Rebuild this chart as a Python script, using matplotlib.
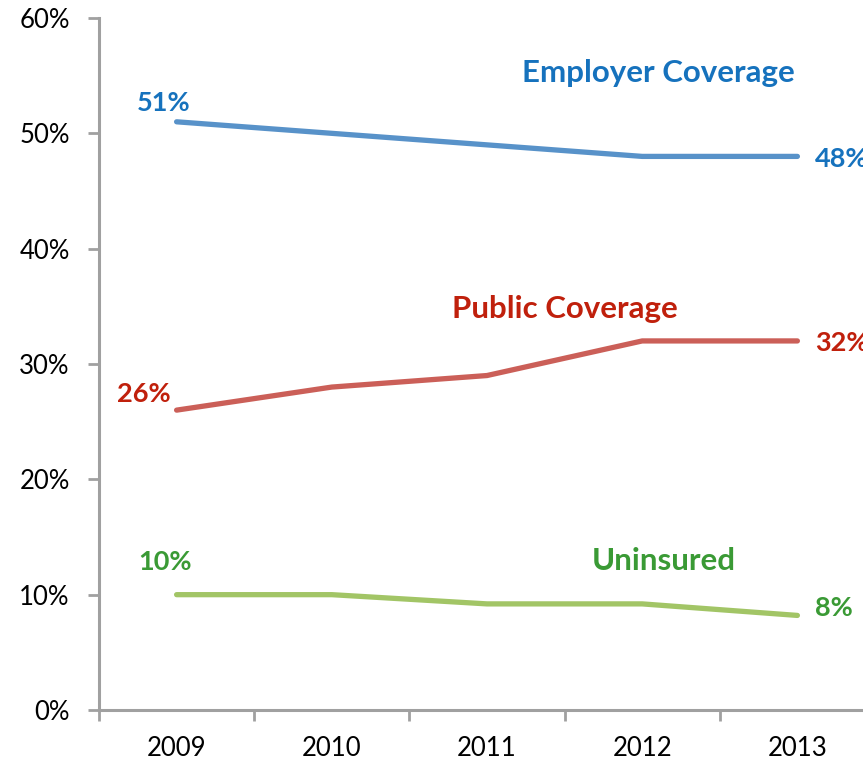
import matplotlib
matplotlib.use("Agg")
import matplotlib.pyplot as plt

years = ["2009", "2010", "2011", "2012", "2013"]
employer = [51, 50, 49, 48, 48]
public = [26, 28, 29, 32, 32]
uninsured = [10, 10, 9.2, 9.2, 8.2]
y_ticks = [0, 10, 20, 30, 40, 50, 60]

plt.rcParams['font.family'] = ['Lato', 'DejaVu Sans']

fig = plt.figure(figsize=(8.63, 7.63), dpi=100)
ax = fig.add_axes([99/863, 53/763, 776/863, 692/763])

x = list(range(len(years)))
c_emp_line, c_emp_txt = "#5892C9", "#1672BD"
c_pub_line, c_pub_txt = "#CB5F58", "#C0200C"
c_uni_line, c_uni_txt = "#A2C566", "#3A9A35"

ax.plot(x, employer, color=c_emp_line, lw=3.8, solid_capstyle='round')
ax.plot(x, public, color=c_pub_line, lw=3.8, solid_capstyle='round')
ax.plot(x, uninsured, color=c_uni_line, lw=3.8, solid_capstyle='round')

ax.set_xlim(-0.5, len(years) - 0.5)
ax.set_ylim(0, 60)
ax.set_yticks(y_ticks)
ax.set_yticklabels([f"{t}%" for t in y_ticks])
ax.set_xticks(x)
ax.set_xticklabels(years)
ax.set_xticks([i + 0.5 for i in range(-1, len(years))], minor=True)

for s in ['top', 'right']:
    ax.spines[s].set_visible(False)
for s in ['left', 'bottom']:
    ax.spines[s].set_color('#A0A0A0')
    ax.spines[s].set_linewidth(2.2)

ax.tick_params(axis='y', direction='out', length=8, width=2, color='#A0A0A0',
               labelsize=18.5, pad=13, labelcolor='black')
ax.tick_params(axis='x', which='major', length=0, labelsize=18.5, pad=19)
ax.tick_params(axis='x', which='minor', direction='out', length=8, width=2, color='#A0A0A0')

fs_num = 19.5
fs_word = 22.5
def lab(txt, xi, yi, dx, dy, color, fs, ha='center'):
    ax.annotate(txt, (xi, yi), xytext=(dx, -dy), textcoords='offset pixels',
                ha=ha, va='center', color=color, fontsize=fs, fontweight='bold',
                annotation_clip=False)

lab(f"{employer[0]:.0f}%", 0, employer[0], -13, -19, c_emp_txt, fs_num)
lab(f"{employer[-1]:.0f}%", 4, employer[-1], 18, 3, c_emp_txt, fs_num, ha='left')
lab("Employer Coverage", 3, employer[3], 16, -83, c_emp_txt, fs_word)
lab(f"{public[0]:.0f}%", 0, public[0], -33, -16, c_pub_txt, fs_num)
lab(f"{public[-1]:.0f}%", 4, public[-1], 18, 2, c_pub_txt, fs_num, ha='left')
lab("Public Coverage", 2.5, (public[2] + public[3]) / 2, 0, -49, c_pub_txt, fs_word)
lab(f"{uninsured[0]:.0f}%", 0, uninsured[0], -12, -33, c_uni_txt, fs_num)
lab(f"{uninsured[-1]:.0f}%", 4, uninsured[-1], 18, -7, c_uni_txt, fs_num, ha='left')
lab("Uninsured", 3, uninsured[3], 22, -43, c_uni_txt, fs_word)

fig.savefig("out.png", dpi=100)
